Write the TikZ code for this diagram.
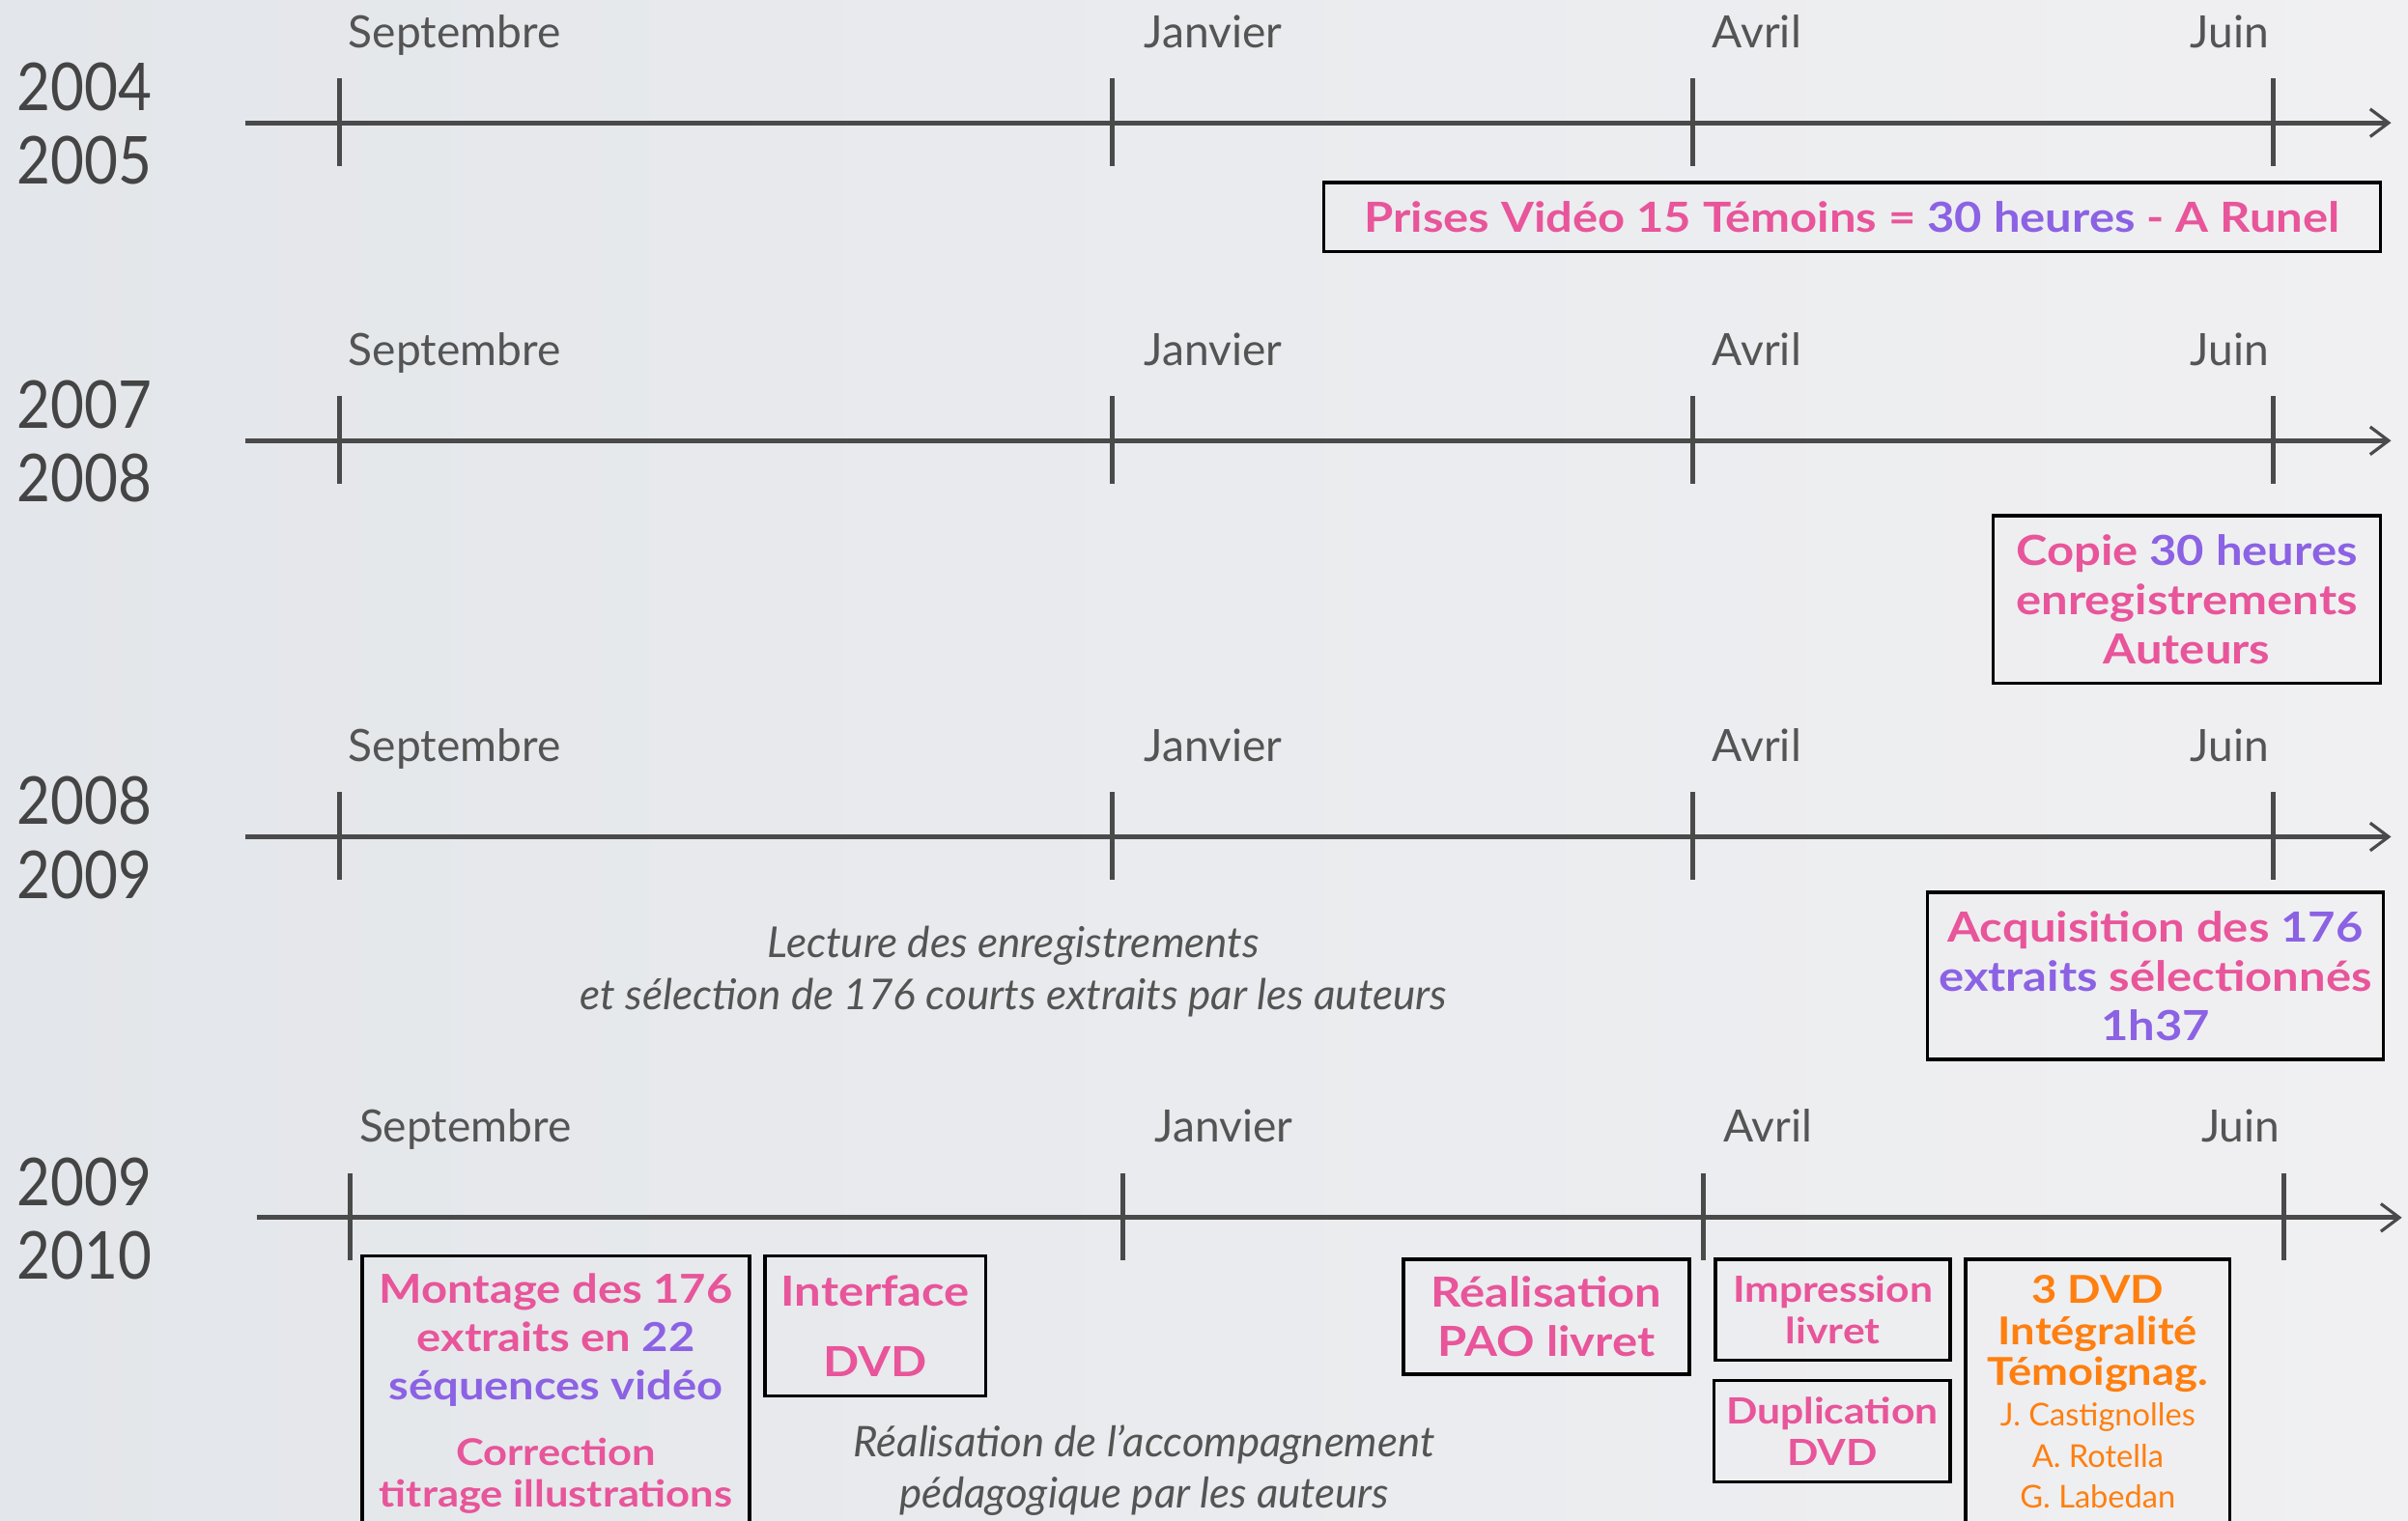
\documentclass[tikz,border=0pt]{standalone}
\usepackage{fontspec}
\setmainfont{Lato}
\newfontfamily\bxfont{Lato}[FakeStretch=1.14]
\newfontfamily\yrfont{Lato}[FakeStretch=0.88]
\usetikzlibrary{arrows.meta}
\definecolor{pinkc}{RGB}{232,85,154}
\definecolor{purplec}{RGB}{140,98,228}
\definecolor{orangec}{RGB}{255,127,15}
\definecolor{axisgray}{RGB}{74,74,74}
\definecolor{yeargray}{RGB}{68,68,68}
\definecolor{labelgray}{RGB}{84,84,84}
\definecolor{bgl}{RGB}{227,230,234}
\definecolor{bgr}{RGB}{240,240,242}
\newcommand{\pk}[1]{\textcolor{pinkc}{#1}}
\newcommand{\pu}[1]{\textcolor{purplec}{#1}}
\begin{document}
\begin{tikzpicture}[x=1pt,y=-1pt,
  axisline/.style={line width=3pt, draw=axisgray, -{Straight Barb[length=12pt,width=18pt,line width=2pt]}},
  tickline/.style={line width=3pt, draw=axisgray},
  month/.style={font=\fontsize{29}{34}\selectfont, text=labelgray, anchor=base, inner sep=0pt},
  year/.style={font=\yrfont\fontsize{43}{46}\selectfont, text=yeargray, anchor=base, inner sep=0pt},
  boxnode/.style={draw=black, line width=2.2pt, inner sep=0pt, align=center, font=\bxfont\bfseries\fontsize{27}{32}\selectfont},
  boxline/.style={draw=black, line width=2.2pt},
  txt/.style={inner sep=0pt, align=center},
  italtext/.style={inner sep=0pt, align=center, text=labelgray, font=\itshape\fontsize{27.7}{34}\selectfont}]
\shade[left color=bgl, right color=bgr] (0,0) rectangle (1568,990);
\useasboundingbox (0,0) rectangle (1568,990);
\foreach \r/\y/\dx/\ya/\yb in {1/80/0/2004/2005, 2/287/0/2007/2008, 3/545/0/2008/2009, 4/793/7/2009/2010}{
  \coordinate (s\r) at (160+\dx,\y);
  \coordinate (e\r) at (1557+\dx,\y);
  \draw[axisline] (s\r) -- (e\r);
  \foreach \tx in {221,724,1102,1480}
    \draw[tickline] (\tx+\dx,\y-29) -- (\tx+\dx,\y+28);
  \node[month] (sep\r) at (296+\dx,\y-49) {Septembre};
  \node[month] (jan\r) at (790+\dx,\y-49) {Janvier};
  \node[month] (avr\r) at (1144+\dx,\y-49) {Avril};
  \node[month] (jui\r) at (1452+\dx,\y-49) {Juin};
  \node[year] (ya\r) at (55,\y-8) {\ya};
  \node[year] (yb\r) at (55,\y+40) {\yb};
}
% row 1
\node[boxnode, minimum width=688pt, minimum height=45pt] (b1) at (1206,141.5)
  {\pk{Prises Vidéo 15 Témoins =} \pu{30 heures} \pk{- A Runel}};
% row 2
\node[boxnode, minimum width=252pt, minimum height=109pt] (b2) at (1424,390.5)
  {\pk{Copie} \pu{30 heures}\\ \pk{enregistrements}\\ \pk{Auteurs}};
% row 3
\node[italtext] (lect) at (660,633) {Lecture des enregistrements\\ et sélection de 176 courts extraits par les auteurs};
\node[boxnode, minimum width=297pt, minimum height=109pt] (b3) at (1403.5,635.5)
  {\pk{Acquisition des} \pu{176}\\ \pu{extraits} \pk{sélectionnés}\\ \pu{1h37}};
% row 4
\draw[boxline] (236,1000) -- (236,818) -- (488,818) -- (488,1000);
\node[txt, font=\bxfont\bfseries\fontsize{26}{31.5}\selectfont] (mont) at (362,873)
  {\pk{Montage des 176}\\ \pk{extraits en} \pu{22}\\ \pu{séquences vidéo}};
\node[txt, text=pinkc, font=\bxfont\bfseries\fontsize{24}{27}\selectfont] (corr) at (362,961)
  {Correction\\ titrage illustrations};
\node[boxnode, text=pinkc, minimum width=144pt, minimum height=91pt, font=\bxfont\bfseries\fontsize{27}{46}\selectfont] (iface) at (570,863.5)
  {Interface\\ DVD};
\node[italtext, font=\itshape\fontsize{27.5}{33}\selectfont] (real) at (745,957.5) {Réalisation de l’accompagnement\\ pédagogique par les auteurs};
\node[boxnode, text=pinkc, minimum width=186pt, minimum height=75pt] (pao) at (1007,857.5)
  {Réalisation\\ PAO livret};
\node[boxnode, text=pinkc, minimum width=153pt, minimum height=66pt, font=\bxfont\bfseries\fontsize{23.5}{27}\selectfont] (impr) at (1193.5,853)
  {Impression\\ livret};
\node[boxnode, text=pinkc, minimum width=154pt, minimum height=66pt, font=\bxfont\bfseries\fontsize{23.5}{27}\selectfont] (dupl) at (1193,932)
  {Duplication\\ DVD};
\draw[boxline] (1280,1000) -- (1280,820) -- (1452,820) -- (1452,1000);
\node[txt, text=orangec, font=\fontsize{20.5}{26.6}\selectfont] (dvd3) at (1366,906.5)
  {{\bxfont\bfseries\fontsize{25}{26.6}\selectfont 3 DVD}\\ {\bxfont\bfseries\fontsize{25}{26.6}\selectfont Intégralité}\\ {\bxfont\bfseries\fontsize{25}{26.6}\selectfont Témoignag.}\\ J. Castignolles\\ A. Rotella\\ G. Labedan};
\end{tikzpicture}
\end{document}
